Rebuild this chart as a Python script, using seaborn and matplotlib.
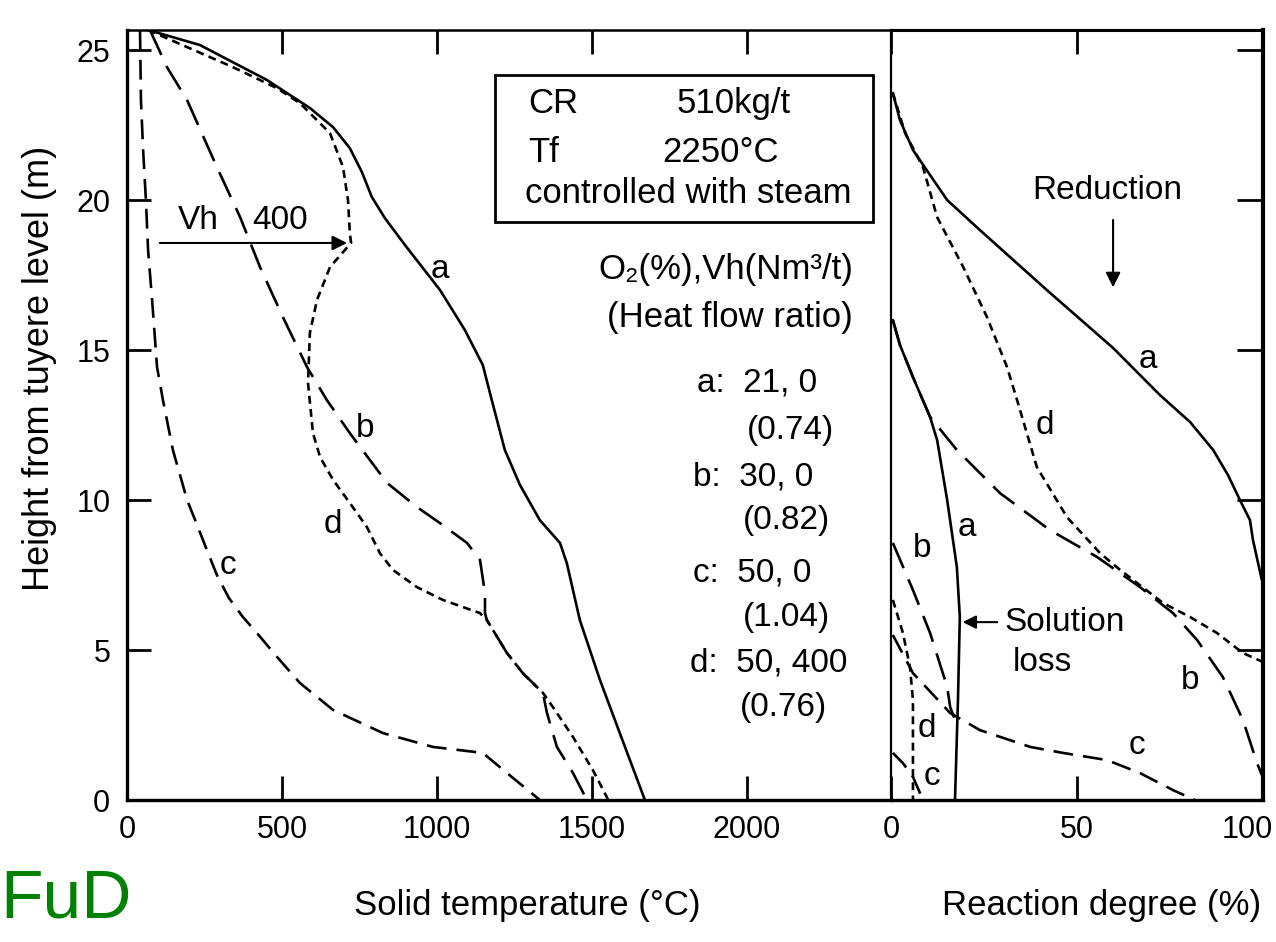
import numpy as np
import pandas as pd
import matplotlib
matplotlib.use("Agg")
import matplotlib.pyplot as plt
import matplotlib.transforms as mtransforms
from matplotlib.patches import Rectangle
import seaborn as sns

sns.set_style("ticks")
plt.rcParams['font.family'] = ['Liberation Sans Narrow', 'Liberation Sans', 'DejaVu Sans']
for key in ['text.color', 'axes.labelcolor', 'xtick.color', 'ytick.color', 'axes.edgecolor']:
    plt.rcParams[key] = 'black'

# ---- left panel: solid temperature (°C) against height (m) ----
temp_a = [68, 235, 452, 590, 665, 719, 758, 790, 832, 897, 1010, 1090, 1148, 1177, 1219, 1268, 1332, 1397,
          1419, 1461, 1526, 1590, 1671]
height_a = [25.67, 25.17, 24.0, 23.07, 22.43, 21.73, 20.93, 20.1, 19.4, 18.5, 17.0, 15.67, 14.5, 13.33, 11.67,
            10.5, 9.33, 8.57, 7.9, 6.0, 4.0, 2.23, 0]

temp_b = [74, 129, 194, 290, 365, 429, 503, 581, 645, 719, 839, 935, 1010, 1097, 1139, 1155, 1155, 1161,
          1226, 1277, 1342, 1355, 1387, 1439, 1484]
height_b = [25.67, 24.43, 23.33, 21.1, 19.43, 17.77, 16.1, 14.43, 13.33, 12.23, 10.57, 9.77, 9.23, 8.57, 8.0,
            6.9, 6.23, 6.0, 4.9, 4.23, 3.57, 2.9, 1.77, 0.9, 0]

temp_c = [42, 45, 52, 61, 68, 81, 97, 116, 148, 194, 226, 258, 290, 329, 374, 419, 484, 558, 665, 826, 987,
          1148, 1226, 1332]
height_c = [25.67, 23.33, 21.67, 20.0, 18.33, 16.67, 14.43, 13.33, 11.67, 10.0, 9.17, 8.33, 7.5, 6.73, 6.1,
            5.57, 4.77, 3.9, 3.0, 2.23, 1.77, 1.57, 0.9, 0]

temp_d = [68, 342, 484, 558, 655, 697, 713, 719, 723, 655, 613, 590, 584, 600, 623, 665, 719, 774, 816, 858,
          935, 1019, 1139, 1161, 1226, 1277, 1342, 1374, 1439, 1503, 1548, 1552]
height_d = [25.67, 24.43, 23.73, 23.23, 22.23, 21.1, 20.0, 18.9, 18.57, 17.77, 16.67, 15.57, 13.9, 12.23, 11.43,
            10.67, 9.9, 9.1, 8.23, 7.67, 7.1, 6.67, 6.23, 6.0, 4.9, 4.23, 3.57, 3.1, 2.1, 1.0, 0.1, 0]

# ---- right panel: reaction degree (%) against height (m) ----
red_a = [0.5, 2.4, 5.9, 15.1, 23.9, 41.9, 59.7, 72.3, 80.4, 86.6, 90.6, 93.8, 96.5, 97.3, 99.7]
red_a_h = [23.57, 22.67, 21.67, 20.0, 19.0, 17.0, 15.07, 13.5, 12.6, 11.67, 10.83, 10.0, 9.33, 8.67, 7.33]

red_b = [0.5, 2.4, 5.9, 10.5, 17.7, 23.9, 29.3, 42.7, 55.4, 66.9, 75.8, 82.3, 89.2, 94.6, 98.4, 99.7]
red_b_h = [16.0, 15.17, 14.1, 12.77, 11.67, 10.9, 10.23, 9.0, 8.1, 7.1, 6.23, 5.33, 4.1, 2.67, 1.23, 0.83]

red_c = [0.5, 5.9, 15.9, 23.9, 37.4, 46.2, 58.1, 66.9, 75.8, 81.7]
red_c_h = [5.5, 4.23, 2.9, 2.33, 1.77, 1.57, 1.33, 0.9, 0.33, 0]

red_d = [0.5, 3.8, 8.6, 12.4, 19.4, 25.8, 31.2, 33.9, 39.2, 47.3, 56.2, 61.6, 73.1, 80.4, 87.6, 94.6, 100]
red_d_h = [23.57, 22.23, 21.1, 19.43, 17.77, 16.1, 14.43, 13.33, 11.1, 9.43, 8.23, 7.67, 6.57, 6.1, 5.57, 4.9, 4.6]

sl_a = [0.5, 2.4, 5.9, 10.5, 12.4, 15.1, 17.7, 18.5, 18.0, 17.2]
sl_a_h = [16.0, 15.17, 14.1, 12.77, 12.0, 10.0, 7.77, 6.1, 3.33, 0]

sl_b = [0.5, 5.9, 10.5, 15.1, 15.9, 17.2]
sl_b_h = [8.57, 7.0, 5.57, 3.77, 3.1, 2.67]

sl_c = [0.5, 3.2, 5.9, 7.8, 8.6]
sl_c_h = [1.57, 1.23, 0.77, 0.23, 0]

sl_d = [0.5, 3.2, 5.1, 5.9, 5.9, 5.9]
sl_d_h = [6.67, 5.57, 4.43, 3.33, 1.33, 0]

styles = {'a': '-', 'b': (0, (10.4, 4.6)), 'c': (0, (7.5, 3.8)), 'd': (0, (3.0, 2.0))}


def curve(x, y, name, xcol):
    return pd.DataFrame({xcol: x, 'h': y, 'curve': name})


left_df = pd.concat([curve(temp_a, height_a, 'a', 'T'), curve(temp_b, height_b, 'b', 'T'),
                     curve(temp_c, height_c, 'c', 'T'), curve(temp_d, height_d, 'd', 'T')])
right_df = pd.concat([curve(red_a, red_a_h, 'a', 'R'), curve(red_b, red_b_h, 'b', 'R'),
                      curve(red_c, red_c_h, 'c', 'R'), curve(red_d, red_d_h, 'd', 'R')])
loss_df = pd.concat([curve(sl_a, sl_a_h, 'a', 'R'), curve(sl_b, sl_b_h, 'b', 'R'),
                     curve(sl_c, sl_c_h, 'c', 'R'), curve(sl_d, sl_d_h, 'd', 'R')])

fig = plt.figure(figsize=(12.76, 9.42), dpi=100)
ax1 = fig.add_axes([127 / 1276, 1 - 800 / 942, 764 / 1276, 770 / 942])
ax2 = fig.add_axes([891 / 1276, 1 - 800 / 942, 372 / 1276, 770 / 942])
ax2.patch.set_alpha(0)

for ax, frames, xcol in [(ax1, [left_df], 'T'), (ax2, [right_df, loss_df], 'R')]:
    for df in frames:
        for name, sub in df.groupby('curve'):
            sns.lineplot(data=sub, x=xcol, y='h', sort=False, estimator=None, ax=ax,
                         color='black', lw=1.9, linestyle=styles[name])

ax1.set_xlim(0, 2465)
ax1.set_ylim(0, 25.67)
ax2.set_xlim(0, 100)
ax2.set_ylim(0, 25.67)
for ax in (ax1, ax2):
    ax.set_xlabel('')
    ax.set_ylabel('')

ax1.set_xticks([0, 500, 1000, 1500, 2000])
ax1.set_yticks([0, 5, 10, 15, 20, 25])
ax1.tick_params(axis='both', direction='in', length=17, width=2, labelsize=22)
ax1.tick_params(axis='x', top=True, pad=11)
ax1.tick_params(axis='y', right=False, pad=12)
ax2.set_xticks([0, 50, 100])
ax2.set_yticks([5, 10, 15, 20, 25])
ax2.tick_params(axis='x', direction='in', top=True, length=17, width=2, labelsize=22, pad=11)
ax2.tick_params(axis='y', direction='in', left=False, right=True, labelleft=False,
                length=19, width=2)

# keep the last tick label of the right panel inside the picture
fig.canvas.draw()
last = ax2.get_xticklabels()[-1]
last.set_horizontalalignment('right')
last.set_transform(last.get_transform() + mtransforms.ScaledTranslation(10 / 100, 0, fig.dpi_scale_trans))

for side, w in [('left', 2.4), ('bottom', 2.4), ('top', 1.8), ('right', 1.6)]:
    ax1.spines[side].set_linewidth(w)
ax2.spines['left'].set_visible(False)
for side, w in [('right', 3.0), ('bottom', 2.4), ('top', 2.2)]:
    ax2.spines[side].set_linewidth(w)

fs = 24
# curve labels, left panel
for s, x, y in [('a', 1010, 17.67), ('b', 768, 12.4), ('c', 326, 7.83), ('d', 665, 9.17)]:
    ax1.text(x, y, s, fontsize=fs, ha='center', va='center')

ax1.text(229, 19.33, 'Vh', fontsize=fs, ha='center', va='center')
ax1.text(494, 19.33, '400', fontsize=fs, ha='center', va='center')
ax1.annotate('', xy=(719, 18.57), xytext=(97, 18.57),
             arrowprops=dict(arrowstyle='-|>', color='black', lw=1.5, mutation_scale=22))

ax1.add_patch(Rectangle((1187, 19.27), 2406 - 1187, 24.17 - 19.27, fill=False, lw=2, ec='black'))
ax1.text(1294, 23.23, 'CR', fontsize=25, va='center')
ax1.text(1774, 23.23, '510kg/t', fontsize=25, va='center')
ax1.text(1294, 21.6, 'Tf', fontsize=25, va='center')
ax1.text(1726, 21.6, '2250°C', fontsize=25, va='center')
ax1.text(1284, 20.23, 'controlled with steam', fontsize=25, va='center')

ax1.text(2342, 17.67, 'O₂(%),Vh(Nm³/t)', fontsize=25, ha='right', va='center')
ax1.text(2342, 16.1, '(Heat flow ratio)', fontsize=25, ha='right', va='center')
for s, x, y in [('a:  21, 0', 1839, 13.9), ('(0.74)', 2000, 12.33),
                ('b:  30, 0', 1826, 10.77), ('(0.82)', 1987, 9.33),
                ('c:  50, 0', 1826, 7.57), ('(1.04)', 1987, 6.1),
                ('d:  50, 400', 1816, 4.57), ('(0.76)', 1977, 3.1)]:
    ax1.text(x, y, s, fontsize=fs, va='center')

# right panel
ax2.text(58.1, 20.33, 'Reduction', fontsize=fs, ha='center', va='center')
ax2.annotate('', xy=(59.7, 17.0), xytext=(59.7, 19.43),
             arrowprops=dict(arrowstyle='-|>', color='black', lw=1.5, mutation_scale=22))
ax2.text(30.6, 5.93, 'Solution', fontsize=fs, va='center')
ax2.text(32.8, 4.6, 'loss', fontsize=fs, va='center')
ax2.annotate('', xy=(18.5, 5.93), xytext=(29.3, 5.93),
             arrowprops=dict(arrowstyle='-|>', color='black', lw=1.5, mutation_scale=20))
for s, x, y in [('a', 69.1, 14.67), ('d', 41.4, 12.5), ('a', 20.4, 9.1), ('b', 8.3, 8.4),
                ('b', 80.4, 4.0), ('c', 66.1, 1.83), ('d', 9.7, 2.4), ('c', 11.0, 0.77)]:
    ax2.text(x, y, s, fontsize=fs, ha='center', va='center')

fig.text(40 / 1276, 1 - 368 / 942, 'Height from tuyere level (m)', fontsize=26,
         rotation=90, ha='center', va='center')
fig.text(527 / 1276, 1 - 905 / 942, 'Solid temperature (°C)', fontsize=25, ha='center', va='center')
fig.text(1102 / 1276, 1 - 905 / 942, 'Reaction degree (%)', fontsize=25, ha='center', va='center')
fig.text(0.0, 1 - 918 / 942, 'FuD', fontsize=50, color='#008000', ha='left', va='baseline',
         family=['Liberation Sans', 'DejaVu Sans'])

fig.savefig('out.png', dpi=100, facecolor='white')
